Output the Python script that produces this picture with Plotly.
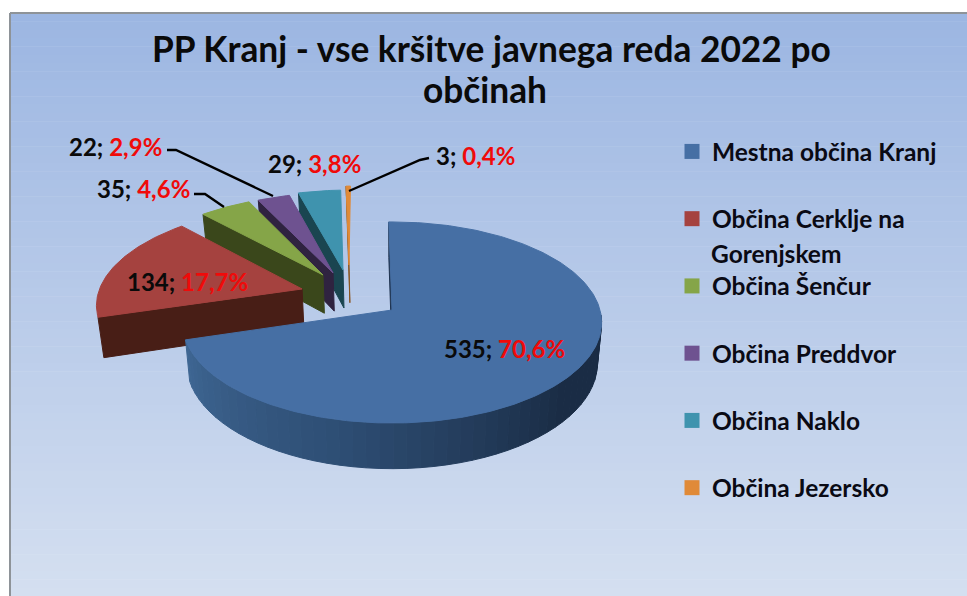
import math
import plotly.graph_objects as go

# --- data ---
categories = ["Mestna občina Kranj", "Občina Cerklje na Gorenjskem", "Občina Šenčur",
              "Občina Preddvor", "Občina Naklo", "Občina Jezersko"]
values = [535, 134, 35, 22, 29, 3]
title_lines = ["PP Kranj - vse kršitve javnega reda 2022 po", "občinah"]

# --- style ---
top_colors = ["#466FA4", "#A5423F", "#85A548", "#6E5290", "#3F93AE", "#E08A38"]
wall_colors = ["#1E3350", "#481E16", "#3A471B", "#2F2340", "#1A4550", "#8A5520"]
# slice explosion in pie-plane units
explode = [(0, 0), (-.444, .218), (-.347, .37), (-.297, .392), (-.248, .425), (-.219, .482)]
label_pos = [(504, 348), (187, 281), (143, 188), (115, 146), (314, 163), (475, 155)]
leaders = [None, None,
           [(194, 194), (205, 194), (224, 207)],
           [(167, 150), (176, 150), (273, 196)],
           None,
           [(429, 158), (420, 160), (349, 191)]]
CX, CY, A, B, K, DEPTH, T0 = 392, 310, 208, 99, .124, 40, -1


def project(wx, wy, bottom=False):
    d = 1 + K * wy
    x = A * wx / d
    y = -B * wy / d
    if bottom:
        return CX + x * .98, CY + y + DEPTH / d
    return CX + x, CY + y


def pt(t, off, bottom=False):
    r = math.radians(t)
    return project(off[0] + math.sin(r), off[1] + math.cos(r), bottom)


def lerp(c1, c2, f):
    a = [int(c1[i:i + 2], 16) for i in (1, 3, 5)]
    b = [int(c2[i:i + 2], 16) for i in (1, 3, 5)]
    return "rgb(%d,%d,%d)" % tuple(round(p + (q - p) * f) for p, q in zip(a, b))


def poly(points, color, name=None):
    return go.Scatter(x=[p[0] for p in points] + [points[0][0]],
                      y=[p[1] for p in points] + [points[0][1]],
                      mode="lines", fill="toself", fillcolor=color,
                      line=dict(color=color, width=1), showlegend=False,
                      hoverinfo="skip" if name is None else "name", name=name or "")


fig = go.Figure()
total = sum(values)
spans = []
t = T0
for v in values:
    spans.append((t, t + 360 * v / total))
    t = spans[-1][1]

# back-to-front drawing
for i in [5, 4, 3, 2, 1]:
    s, e = spans[i]
    off = explode[i]
    apex_top = project(*off)
    apex_bot = project(*off, True)
    fig.add_trace(poly([apex_top, pt(s, off), pt(s, off, True), apex_bot], wall_colors[i]))
    n = max(4, int(e - s))
    arc = [pt(s + (e - s) * j / n, off) for j in range(n + 1)]
    fig.add_trace(poly([apex_top] + arc, top_colors[i], categories[i]))

# main slice: rim with shading, then face
s, e = spans[0]
rim_start, rim_end = 93, e
N = 48
stops = ["#1A2C45", "#2E4E74", "#3F6794"]
for j in range(N):
    a0 = rim_start + (rim_end - rim_start) * j / N
    a1 = rim_start + (rim_end - rim_start) * (j + 1) / N
    f = max(0, (a0 - 130) / (rim_end - 130)) * 2
    col = lerp(stops[0], stops[1], f) if f <= 1 else lerp(stops[1], stops[2], f - 1)
    fig.add_trace(poly([pt(a0, (0, 0)), pt(a1, (0, 0)), pt(a1, (0, 0), True), pt(a0, (0, 0), True)], col))
apex = project(0, 0)
fig.add_trace(poly([apex, pt(s, (0, 0)), pt(s, (0, 0), True), project(0, 0, True)], wall_colors[0]))
n = int(e - s)
fig.add_trace(poly([apex] + [pt(s + (e - s) * j / n, (0, 0)) for j in range(n + 1)], top_colors[0], categories[0]))

# legend entries
legend_names = [c.replace(" na Gorenjskem", " na") for c in categories]
for i, nm in enumerate(legend_names):
    fig.add_trace(go.Scatter(x=[None], y=[None], mode="markers", name=nm, legendgroup=str(i),
                             marker=dict(symbol="square", size=15, color=top_colors[i])))

# frame background as a stacked gradient
shapes = []
STR = 70
for j in range(STR):
    y0 = 13 + (596 - 13) * j / STR
    y1 = 13 + (596 - 13) * (j + 1) / STR
    shapes.append(dict(type="rect", xref="x", yref="y", x0=10, x1=967, y0=y0, y1=y1 + .5, layer="below",
                       line=dict(width=0), fillcolor=lerp("#9CB6E2", "#D4DFF0", j / (STR - 1))))
shapes.append(dict(type="line", xref="x", yref="y", x0=10, x1=10, y0=13, y1=596, layer="below",
                   line=dict(color="#8E9398", width=2)))
shapes.append(dict(type="line", xref="x", yref="y", x0=10, x1=967, y0=13, y1=13, layer="below",
                   line=dict(color="#8E9398", width=2)))
for l in leaders:
    if l:
        shapes.append(dict(type="path", xref="x", yref="y", line=dict(color="#000000", width=2.4),
                           path="M" + " L".join(f"{x},{y}" for x, y in l)))

annotations = []
FONT = "Lato, 'Open Sans', sans-serif"
for (x, y), line in zip([(491, 48), (485, 89)], title_lines):
    annotations.append(dict(x=x, y=y, xref="x", yref="y", showarrow=False, text=f"<b>{line}</b>",
                            font=dict(family=FONT, size=35.3, color="#0A0A0A")))
for i, v in enumerate(values):
    pct = f"{100 * v / total:.1f}".replace(".", ",")
    annotations.append(dict(x=label_pos[i][0], y=label_pos[i][1], xref="x", yref="y", showarrow=False,
                            text=f"<b>{v}; <span style=\"color:#F00A0A\">{pct}%</span></b>",
                            font=dict(family=FONT, size=24, color="#0A0A0A")))
annotations.append(dict(x=709, y=253, xref="x", yref="y", showarrow=False, xanchor="left",
                        text="<b>Gorenjskem</b>", font=dict(family=FONT, size=24.5, color="#0A0A14")))

fig.update_layout(
    width=967, height=596, margin=dict(l=0, r=0, t=0, b=0),
    paper_bgcolor="#FFFFFF", plot_bgcolor="rgba(0,0,0,0)",
    xaxis=dict(visible=False, range=[0, 967], fixedrange=True, domain=[0, 1]),
    yaxis=dict(visible=False, range=[596, 0], fixedrange=True, domain=[0, 1]),
    shapes=shapes, annotations=annotations,
    legend=dict(x=672 / 967, y=1 - 129 / 596, xanchor="left", yanchor="top", bgcolor="rgba(0,0,0,0)",
                tracegroupgap=32.4, traceorder="grouped",
                font=dict(family=FONT, size=24.5, color="#0A0A14", weight="bold")),
)
fig.write_html("out.html", config=dict(displayModeBar=False),
               post_script="document.body.style.margin='0';document.body.style.overflow='hidden';")
